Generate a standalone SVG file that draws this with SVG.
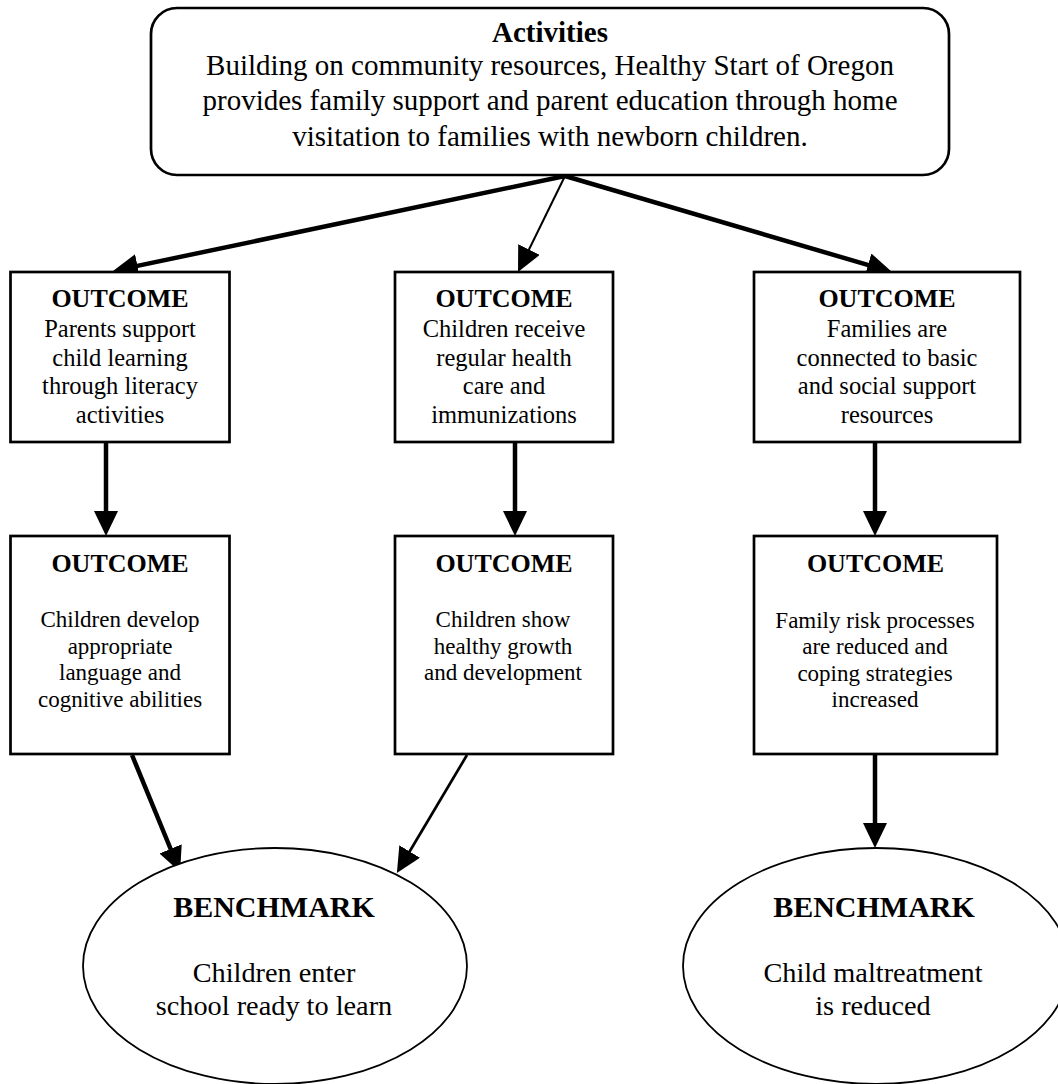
<svg xmlns="http://www.w3.org/2000/svg" width="1058" height="1084" viewBox="0 0 1058 1084">
<style>
text{font-family:"Liberation Serif","Times New Roman",serif;fill:#000;text-anchor:middle}
.b{font-weight:bold}
.t{font-size:29px}
.h{font-size:26px;font-weight:bold}
.r1{font-size:24.5px}
.r2{font-size:23px}
.bm{font-size:30px;font-weight:bold}
.e{font-size:28.3px}
.box{fill:#fff;stroke:#000;stroke-width:2.7}
.ell{fill:#fff;stroke:#000;stroke-width:1.8}
.c{fill:none;stroke:#000;stroke-linecap:butt}
.thick{stroke-width:4.5}
.thin{stroke-width:2}
.mid{stroke-width:2.7}
</style>
<defs>
<marker id="ah" viewBox="0 0 25 24" refX="5" refY="12" markerWidth="25" markerHeight="24" markerUnits="userSpaceOnUse" orient="auto">
<path d="M0,0 L25,12 L0,24 z" fill="#000"/>
</marker>
</defs>
<rect width="1058" height="1084" fill="#fff"/>
<g id="connectors">
<line class="c thick" x1="565" y1="176" x2="132.6" y2="266.9" marker-end="url(#ah)"/>
<line class="c thin" x1="565" y1="176" x2="526.8" y2="254" marker-end="url(#ah)"/>
<line class="c thick" x1="565" y1="176" x2="872.8" y2="266.4" marker-end="url(#ah)"/>
<line class="c thick" x1="106" y1="443" x2="106" y2="516" marker-end="url(#ah)"/>
<line class="c thick" x1="515" y1="443" x2="515" y2="516" marker-end="url(#ah)"/>
<line class="c thick" x1="875" y1="443" x2="875" y2="516" marker-end="url(#ah)"/>
<line class="c thick" x1="132" y1="755" x2="172.5" y2="853.5" marker-end="url(#ah)"/>
<line class="c mid" x1="467" y1="755" x2="407.1" y2="855.8" marker-end="url(#ah)"/>
<line class="c thick" x1="875" y1="755" x2="875" y2="828" marker-end="url(#ah)"/>
</g>
<g id="activities">
<rect class="box" x="151" y="8" width="798" height="167" rx="26" ry="26"/>
<text class="t b" x="550" y="42">Activities</text>
<text class="t" x="550" y="75">Building on community resources, Healthy Start of Oregon</text>
<text class="t" x="550" y="110">provides family support and parent education through home</text>
<text class="t" x="550" y="146">visitation to families with newborn children.</text>
</g>
<g id="outcome-literacy">
<rect class="box" x="10.5" y="272" width="219" height="170"/>
<text class="h" x="120" y="307">OUTCOME</text>
<text class="r1" x="120" y="337">Parents support</text>
<text class="r1" x="120" y="365.7">child learning</text>
<text class="r1" x="120" y="394.4">through literacy</text>
<text class="r1" x="120" y="423">activities</text>
</g>
<g id="outcome-health">
<rect class="box" x="395" y="272" width="218" height="170"/>
<text class="h" x="504" y="307">OUTCOME</text>
<text class="r1" x="504" y="337">Children receive</text>
<text class="r1" x="504" y="365.7">regular health</text>
<text class="r1" x="504" y="394.4">care and</text>
<text class="r1" x="504" y="423">immunizations</text>
</g>
<g id="outcome-resources">
<rect class="box" x="754" y="272" width="266" height="170"/>
<text class="h" x="887" y="307">OUTCOME</text>
<text class="r1" x="887" y="337">Families are</text>
<text class="r1" x="887" y="365.7">connected to basic</text>
<text class="r1" x="887" y="394.4">and social support</text>
<text class="r1" x="887" y="423">resources</text>
</g>
<g id="outcome-language">
<rect class="box" x="10.5" y="536" width="219" height="218"/>
<text class="h" x="120" y="572">OUTCOME</text>
<text class="r2" x="120" y="627">Children develop</text>
<text class="r2" x="120" y="654">appropriate</text>
<text class="r2" x="120" y="680">language and</text>
<text class="r2" x="120" y="707">cognitive abilities</text>
</g>
<g id="outcome-growth">
<rect class="box" x="395" y="536" width="218" height="218"/>
<text class="h" x="504" y="572">OUTCOME</text>
<text class="r2" x="503" y="627">Children show</text>
<text class="r2" x="503" y="654">healthy growth</text>
<text class="r2" x="503" y="680">and development</text>
</g>
<g id="outcome-risk">
<rect class="box" x="754" y="536" width="243" height="218"/>
<text class="h" x="875.5" y="572">OUTCOME</text>
<text class="r2" x="875" y="628">Family risk processes</text>
<text class="r2" x="875" y="654">are reduced and</text>
<text class="r2" x="875" y="681">coping strategies</text>
<text class="r2" x="875" y="707">increased</text>
</g>
<g id="benchmark-school">
<ellipse class="ell" cx="275" cy="966" rx="192" ry="118"/>
<text class="bm" x="274" y="917">BENCHMARK</text>
<text class="e" x="274" y="982">Children enter</text>
<text class="e" x="274" y="1015">school ready to learn</text>
</g>
<g id="benchmark-maltreatment">
<ellipse class="ell" cx="876" cy="966" rx="193" ry="118"/>
<text class="bm" x="874" y="917">BENCHMARK</text>
<text class="e" x="873" y="982">Child maltreatment</text>
<text class="e" x="873" y="1015">is reduced</text>
</g>
</svg>
